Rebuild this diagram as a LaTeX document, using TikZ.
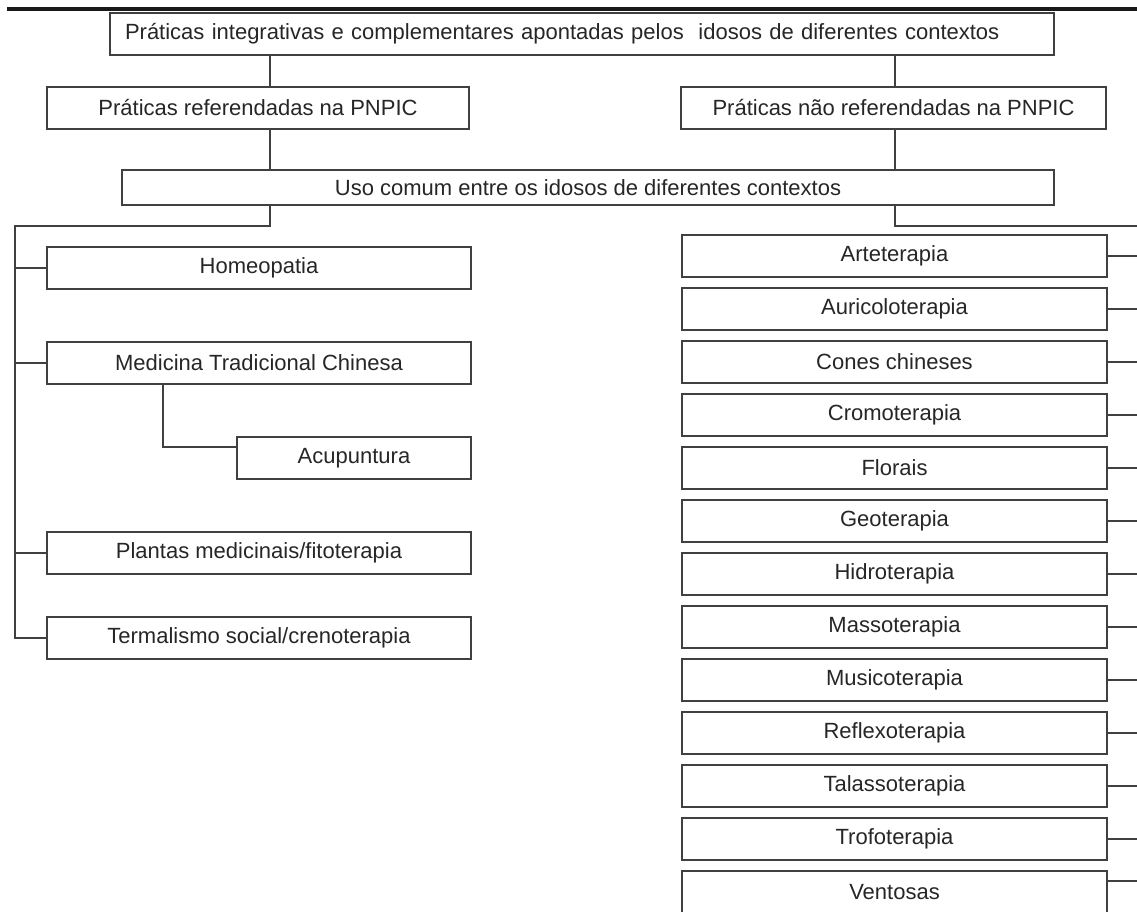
\documentclass[tikz,border=0pt]{standalone}
\usepackage{fontspec}
\setmainfont{Liberation Sans}
\usepackage{tikz}

\begin{document}
\begin{tikzpicture}[x=0.75pt,y=-0.75pt,color=black!75,line width=1.1pt,
    box/.style={draw,rectangle,inner sep=0pt,minimum height=31.5pt,
        text=black!85,font=\fontsize{16.5}{19}\selectfont},
    wide/.style={box,minimum width=318pt},
    side/.style={box,minimum width=318.75pt}]
    \clip (0,0) rectangle (1137,911);
    \draw[line width=2.3pt,black!90] (7,9) -- (1137,9);

    \node[box,text width=685.5pt,inner xsep=11.25pt,align=left] (top) at (582,34)
        {Práticas integrativas e complementares apontadas pelos \ idosos de diferentes contextos};
    \node[box,minimum width=316.5pt] (ref) at (258,108) {Práticas referendadas na PNPIC};
    \node[side] (nref) at (893.5,108) {Práticas não referendadas na PNPIC};
    \node[box,minimum width=699pt,minimum height=26.25pt] (comum) at (588,187.5)
        {Uso comum entre os idosos de diferentes contextos};

    \coordinate (lx) at (270,0);
    \coordinate (rx) at (895,0);
    \coordinate (mx) at (163,0);
    \coordinate (lbus) at (15,226);
    \coordinate (edge) at (1137,226);

    \draw (top.south -| lx) -- (ref.north -| lx);
    \draw (top.south -| rx) -- (nref.north -| rx);
    \draw (ref.south -| lx) -- (comum.north -| lx);
    \draw (nref.south -| rx) -- (comum.north -| rx);

    % referendadas
    \node[wide] (hom) at (259,268) {Homeopatia};
    \node[wide] (mtc) at (259,363) {Medicina Tradicional Chinesa};
    \node[box,minimum width=175.5pt] (acu) at (354,458) {Acupuntura};
    \node[wide] (pla) at (259,553) {Plantas medicinais/fitoterapia};
    \node[wide] (ter) at (259,638) {Termalismo social/crenoterapia};

    \draw (comum.south -| lx) |- (lbus) |- (ter.west);
    \foreach \n in {hom,mtc,pla}
        \draw (lbus |- \n.west) -- (\n.west);
    \draw (mtc.south -| mx) |- ([yshift=8.25pt]acu.west);

    % nao referendadas
    \draw (comum.south -| rx) |- (edge);
    \foreach \t [count=\i, evaluate={\y=256+53*(\i-1); \dy=(\i==13)*8.25;}] in
        {Arteterapia,Auricoloterapia,Cones chineses,Cromoterapia,Florais,Geoterapia,
         Hidroterapia,Massoterapia,Musicoterapia,Reflexoterapia,Talassoterapia,
         Trofoterapia,Ventosas}{
        \node[side] (r\i) at (894.5,\y) {\t};
        \draw ([yshift=\dy pt]r\i.east) -- ([yshift=\dy pt]r\i.east -| edge);
    }
\end{tikzpicture}
\end{document}
